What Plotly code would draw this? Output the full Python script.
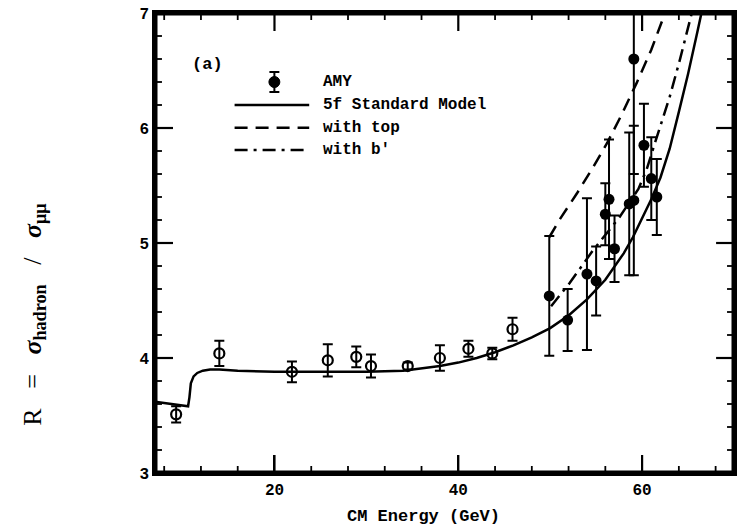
import plotly.graph_objects as go

# ---------------- data ----------------
# other experiments (open circles)
other_x = [9.3, 14.0, 21.9, 25.8, 28.9, 30.5, 34.5, 38.0, 41.1, 43.7, 45.9]
other_y = [3.51, 4.04, 3.88, 3.98, 4.01, 3.93, 3.93, 4.00, 4.08, 4.04, 4.25]
other_err = [0.07, 0.11, 0.09, 0.14, 0.09, 0.10, 0.03, 0.11, 0.07, 0.05, 0.10]

# AMY (filled circles)
amy_x = [49.9, 51.9, 54.0, 55.0, 56.0, 56.4, 57.0, 58.6, 59.1, 59.1, 60.2, 61.0, 61.6]
amy_y = [4.54, 4.33, 4.73, 4.67, 5.25, 5.38, 4.95, 5.34, 5.37, 6.60, 5.85, 5.56, 5.40]
amy_err = [0.52, 0.27, 0.66, 0.30, 0.27, 0.52, 0.29, 0.62, 0.65, 1.00, 0.36, 0.36, 0.33]

# 5f Standard Model
sm_x = [7, 8, 9, 10, 10.6, 10.75, 10.9, 11.2, 11.6, 12.2, 13, 14, 16, 20, 25, 30, 34,
        36, 38, 40, 42, 44, 46, 48, 50, 52, 54, 56, 57, 58, 59, 60, 61, 62, 63, 64, 65,
        66, 67]
sm_y = [3.62, 3.61, 3.60, 3.59, 3.58, 3.66, 3.78, 3.84, 3.87, 3.89, 3.90, 3.90, 3.89,
        3.88, 3.88, 3.88, 3.89, 3.91, 3.93, 3.96, 4.00, 4.05, 4.11, 4.18, 4.26, 4.37,
        4.51, 4.68, 4.79, 4.91, 5.05, 5.21, 5.38, 5.57, 5.82, 6.14, 6.47, 6.83, 7.2]

# with top
top_x = [49.9, 51.0, 52.9, 54.6, 56.2, 57.8, 59.4, 61.0, 62.5, 62.8]
top_y = [5.05, 5.20, 5.43, 5.65, 5.87, 6.12, 6.39, 6.68, 7.00, 7.06]

# with b'
bp_x = [50.1, 52.1, 54.6, 57.5, 59.6, 60.5, 61.4, 63.0, 64.1, 65.3, 65.6]
bp_y = [4.45, 4.65, 4.93, 5.22, 5.47, 5.64, 5.87, 6.27, 6.59, 6.97, 7.06]

x_range = [7, 70]
y_range = [3, 7]
x_major_ticks = [20, 40, 60]
y_major_ticks = [3, 4, 5, 6, 7]
x_minor_step = 4
y_minor_step = 0.2

legend_labels = ["AMY", "5f Standard Model", "with top", "with b'"]
panel_label = "(a)"
x_title = "CM Energy (GeV)"
SP = "\u00a0\u00a0\u00a0"
y_title = ("R" + SP + "=" + SP + "<b><i>σ</i></b><sub><b>hadron</b></sub>"
           + SP + "/" + SP + "<b><i>σ</i></b><sub><b>μμ</b></sub>")

# ---------------- style ----------------
MONO = "Liberation Mono"
SERIF = "Liberation Serif"
LW = 2.5
TOP_DASH = "13px,8px"
BP_DASH = "13px,6px,3px,6px"
MAJOR_LEN, MINOR_LEN = 18, 7   # px

W, H = 739, 532
ML, MR, MT, MB = 155, 2, 13, 59
pw, ph = W - ML - MR, H - MT - MB
ux = (x_range[1] - x_range[0]) / pw   # data units per px
uy = (y_range[1] - y_range[0]) / ph


def px_x(p):
    return (p - ML) / pw


def px_y(p):
    return (H - MB - p) / ph


def frange(a, b, s):
    out, v = [], a
    while v <= b + 1e-9:
        out.append(round(v, 6))
        v += s
    return out


fig = go.Figure()

# ---------------- tick marks (drawn on the axes' own scales) ----------------
x_minor = [v for v in frange(0, x_range[1], x_minor_step)
           if x_range[0] < v < x_range[1] and v not in x_major_ticks]
y_minor = [v for v in frange(y_range[0], y_range[1], y_minor_step)
           if y_range[0] < v < y_range[1] and abs(v - round(v)) > 1e-6]
y_major_in = [v for v in y_major_ticks if y_range[0] < v < y_range[1]]


def tick_path(xvals, yvals, L):
    tx, ty = [], []
    for v in xvals:
        tx += [v, v, None, v, v, None]
        ty += [y_range[0], y_range[0] + L * uy, None, y_range[1], y_range[1] - L * uy, None]
    for v in yvals:
        tx += [x_range[0], x_range[0] + L * ux, None, x_range[1], x_range[1] - L * ux, None]
        ty += [v, v, None, v, v, None]
    return tx, ty


for xv, yv, L, w in ((x_major_ticks, y_major_in, MAJOR_LEN, 2.2),
                     (x_minor, y_minor, MINOR_LEN, 1.8)):
    tx, ty = tick_path(xv, yv, L)
    fig.add_trace(go.Scatter(x=tx, y=ty, mode="lines", connectgaps=False,
                             line=dict(color="black", width=w),
                             showlegend=False, hoverinfo="skip"))

# frame (half of the width is clipped at the plot edge)
fig.add_trace(go.Scatter(
    x=[x_range[0], x_range[1], x_range[1], x_range[0], x_range[0]],
    y=[y_range[0], y_range[0], y_range[1], y_range[1], y_range[0]],
    mode="lines", line=dict(color="black", width=5),
    showlegend=False, hoverinfo="skip"))

# ---------------- curves and data ----------------
fig.add_trace(go.Scatter(
    x=sm_x, y=sm_y, mode="lines", line=dict(color="black", width=LW),
    showlegend=False, hoverinfo="skip"))
fig.add_trace(go.Scatter(
    x=top_x, y=top_y, mode="lines", line=dict(color="black", width=LW, dash=TOP_DASH),
    showlegend=False, hoverinfo="skip"))
fig.add_trace(go.Scatter(
    x=bp_x, y=bp_y, mode="lines", line=dict(color="black", width=LW, dash=BP_DASH),
    showlegend=False, hoverinfo="skip"))

fig.add_trace(go.Scatter(
    x=other_x, y=other_y, mode="markers",
    marker=dict(symbol="circle-open", size=10, color="black", line=dict(width=2.2)),
    error_y=dict(type="data", array=other_err, width=5, thickness=2, color="black"),
    showlegend=False))
fig.add_trace(go.Scatter(
    x=amy_x, y=amy_y, mode="markers",
    marker=dict(symbol="circle", size=11, color="black"),
    error_y=dict(type="data", array=amy_err, width=5, thickness=2, color="black"),
    showlegend=False))

# ---------------- hand-made legend (layout shapes, pixel placed) ----------------
LEG_PY = [82, 105, 127.7, 150]
LEG_PX0, LEG_PX1 = 235, 310
LEG_MPX = 275
LEG_TPX = 322

shapes = []
mx = px_x(LEG_MPX)
ln = dict(color="black", width=2)
shapes.append(dict(type="line", xref="paper", yref="paper",
                   x0=mx, x1=mx, y0=px_y(LEG_PY[0] - 10), y1=px_y(LEG_PY[0] + 10), line=ln))
for dy in (-10, 10):
    shapes.append(dict(type="line", xref="paper", yref="paper",
                       x0=px_x(LEG_MPX - 5), x1=px_x(LEG_MPX + 5),
                       y0=px_y(LEG_PY[0] + dy), y1=px_y(LEG_PY[0] + dy), line=ln))
shapes.append(dict(type="circle", xref="paper", yref="paper",
                   x0=px_x(LEG_MPX - 5.5), x1=px_x(LEG_MPX + 5.5),
                   y0=px_y(LEG_PY[0] + 5.5), y1=px_y(LEG_PY[0] - 5.5),
                   fillcolor="black", line=dict(color="black", width=1)))
for py, dash in zip(LEG_PY[1:], ["solid", TOP_DASH, BP_DASH]):
    shapes.append(dict(type="line", xref="paper", yref="paper",
                       x0=px_x(LEG_PX0), x1=px_x(LEG_PX1), y0=px_y(py), y1=px_y(py),
                       line=dict(color="black", width=LW, dash=dash)))

annotations = []
for py, lab in zip(LEG_PY, legend_labels):
    annotations.append(dict(
        x=px_x(LEG_TPX), y=px_y(py), xref="paper", yref="paper", text=lab,
        showarrow=False, xanchor="left", yanchor="middle",
        font=dict(family=MONO, size=16, color="black", weight="bold")))
annotations.append(dict(
    x=px_x(208), y=px_y(64), xref="paper", yref="paper", text=panel_label,
    showarrow=False, xanchor="center", yanchor="middle",
    font=dict(family=MONO, size=17, color="black", weight="bold")))
annotations.append(dict(
    x=px_x(425), y=px_y(516), xref="paper", yref="paper", text=x_title,
    showarrow=False, xanchor="center", yanchor="middle",
    font=dict(family=MONO, size=17, color="black", weight="bold")))
annotations.append(dict(
    x=px_x(33), y=px_y(314), xref="paper", yref="paper", text=y_title,
    showarrow=False, textangle=-90, xanchor="center", yanchor="middle",
    font=dict(family=SERIF, size=26, color="black")))

fig.update_layout(
    width=W, height=H,
    margin=dict(l=ML, r=MR, t=MT, b=MB),
    paper_bgcolor="white", plot_bgcolor="white",
    showlegend=False,
    xaxis=dict(range=x_range, tickmode="array", tickvals=x_major_ticks,
               ticks="inside", ticklen=MAJOR_LEN, tickwidth=2, tickcolor="black",
               showline=True, linecolor="black", linewidth=2.5, mirror=True,
               showgrid=False, zeroline=False,
               tickfont=dict(family=MONO, size=16, color="black", weight="bold")),
    yaxis=dict(range=y_range, tickmode="array", tickvals=y_major_ticks,
               ticks="inside", ticklen=MAJOR_LEN, tickwidth=2, tickcolor="black",
               showline=True, linecolor="black", linewidth=2.5, mirror=True,
               showgrid=False, zeroline=False,
               tickfont=dict(family=MONO, size=16, color="black", weight="bold")),
    shapes=shapes,
    annotations=annotations,
)

fig.write_html("out.html")
